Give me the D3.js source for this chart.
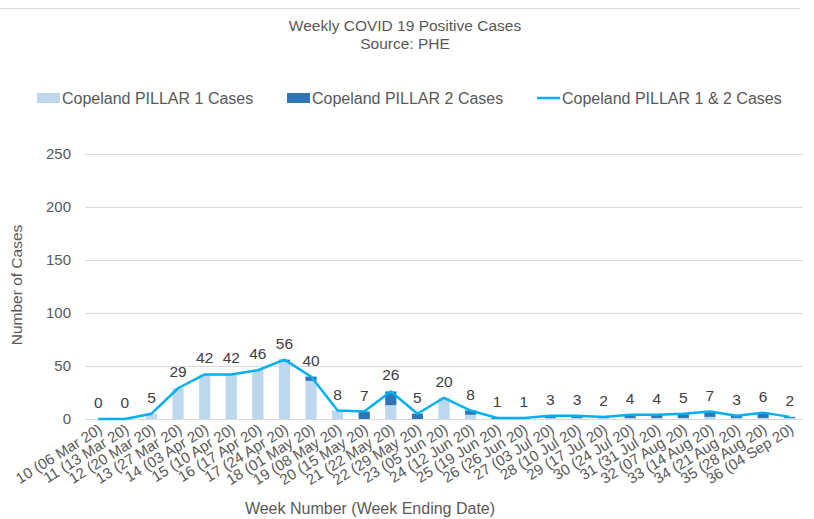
<!DOCTYPE html>
<html>
<head>
<meta charset="utf-8">
<script src="https://cdn.jsdelivr.net/npm/d3@7"></script>
<style>
  body { margin: 0; background: #fff; }
  text { font-family: "Liberation Sans", Arial, sans-serif; fill: #595959; }
</style>
</head>
<body>
<div id="chart"></div>
<script>
const weeks = ["10 (06 Mar 20)", "11 (13 Mar 20)", "12 (20 Mar 20)", "13 (27 Mar 20)", "14 (03 Apr 20)",
  "15 (10 Apr 20)", "16 (17 Apr 20)", "17 (24 Apr 20)", "18 (01 May 20)", "19 (08 May 20)",
  "20 (15 May 20)", "21 (22 May 20)", "22 (29 May 20)", "23 (05 Jun 20)", "24 (12 Jun 20)",
  "25 (19 Jun 20)", "26 (26 Jun 20)", "27 (03 Jul 20)", "28 (10 Jul 20)", "29 (17 Jul 20)",
  "30 (24 Jul 20)", "31 (31 Jul 20)", "32 (07 Aug 20)", "33 (14 Aug 20)", "34 (21 Aug 20)",
  "35 (28 Aug 20)", "36 (04 Sep 20)"];
const pillar1 = [0, 0, 5, 29, 42, 42, 46, 54, 36, 8, 0, 13, 0, 20, 4, 0, 0, 1, 1, 1, 1, 1, 1, 2, 1, 1, 1];
const pillar2 = [0, 0, 0, 0, 0, 0, 0, 2, 4, 0, 7, 13, 5, 0, 4, 1, 1, 2, 2, 1, 3, 3, 4, 5, 2, 5, 1];
const totals = [0, 0, 5, 29, 42, 42, 46, 56, 40, 8, 7, 26, 5, 20, 8, 1, 1, 3, 3, 2, 4, 4, 5, 7, 3, 6, 2];
const yTicks = [0, 50, 100, 150, 200, 250];

const width = 814, height = 519;
const margin = { left: 85, right: 11, top: 154, bottom: 100 };

const svg = d3.select("#chart").append("svg")
  .attr("width", width)
  .attr("height", height);

svg.append("line")
  .attr("x1", 0).attr("x2", 800)
  .attr("y1", 8.5).attr("y2", 8.5)
  .attr("stroke", "#d9d9d9");

const x = d3.scaleBand()
  .domain(weeks)
  .range([margin.left, width - margin.right])
  .padding(0);

const y = d3.scaleLinear()
  .domain([0, 250])
  .range([height - margin.bottom, margin.top]);

// gridlines
svg.append("g")
  .selectAll("line")
  .data(yTicks)
  .enter().append("line")
  .attr("x1", margin.left)
  .attr("x2", width - margin.right)
  .attr("y1", d => Math.round(y(d)) + 0.5)
  .attr("y2", d => Math.round(y(d)) + 0.5)
  .attr("stroke", "#d9d9d9")
  .attr("stroke-width", 1);

svg.append("g")
  .selectAll("text")
  .data(yTicks)
  .enter().append("text")
  .attr("x", 71)
  .attr("y", d => y(d) + 5)
  .attr("text-anchor", "end")
  .attr("font-size", 15)
  .text(d => d);

// stacked bars
const bw = x.bandwidth() * 0.42;
const barX = d => x(d) + (x.bandwidth() - bw) / 2;

svg.append("g")
  .selectAll("rect")
  .data(weeks)
  .enter().append("rect")
  .attr("x", barX)
  .attr("width", bw)
  .attr("y", (d, i) => y(pillar1[i]))
  .attr("height", (d, i) => y(0) - y(pillar1[i]))
  .attr("fill", "#bdd7ee");

svg.append("g")
  .selectAll("rect")
  .data(weeks)
  .enter().append("rect")
  .attr("x", barX)
  .attr("width", bw)
  .attr("y", (d, i) => y(pillar1[i] + pillar2[i]))
  .attr("height", (d, i) => y(pillar1[i]) - y(pillar1[i] + pillar2[i]))
  .attr("fill", "#2e75b6");

// total line
const cx = d => x(d) + x.bandwidth() / 2;
const line = d3.line()
  .x((d, i) => cx(weeks[i]))
  .y(d => y(d));

svg.append("path")
  .datum(totals)
  .attr("d", line)
  .attr("fill", "none")
  .attr("stroke", "#00b0f0")
  .attr("stroke-width", 2.5)
  .attr("stroke-linejoin", "round");

svg.append("g")
  .selectAll("text")
  .data(totals)
  .enter().append("text")
  .attr("x", (d, i) => cx(weeks[i]))
  .attr("y", d => y(d) - 11)
  .attr("text-anchor", "middle")
  .attr("font-size", 15.5)
  .style("fill", "#404040")
  .text(d => d);

// x tick labels
svg.append("g")
  .selectAll("text")
  .data(weeks)
  .enter().append("text")
  .attr("transform", d => `translate(${cx(d) + 5},${y(0) + 13}) rotate(-32)`)
  .attr("text-anchor", "end")
  .attr("font-size", 15)
  .text(d => d);

// titles
svg.append("text")
  .attr("x", 405).attr("y", 31)
  .attr("text-anchor", "middle")
  .attr("font-size", 15.5)
  .text("Weekly COVID 19 Positive Cases");
svg.append("text")
  .attr("x", 405).attr("y", 49)
  .attr("text-anchor", "middle")
  .attr("font-size", 15.5)
  .text("Source: PHE");

svg.append("text")
  .attr("transform", "translate(22,285) rotate(-90)")
  .attr("text-anchor", "middle")
  .attr("font-size", 15.5)
  .text("Number of Cases");

svg.append("text")
  .attr("x", 370).attr("y", 514)
  .attr("text-anchor", "middle")
  .attr("font-size", 16)
  .text("Week Number (Week Ending Date)");

// legend
const legendItems = [
  { label: "Copeland PILLAR 1 Cases", x: 37, type: "bar", color: "#bdd7ee" },
  { label: "Copeland PILLAR 2 Cases", x: 287, type: "bar", color: "#2e75b6" },
  { label: "Copeland PILLAR 1 & 2 Cases", x: 537, type: "line", color: "#00b0f0" }
];
const legend = svg.append("g")
  .selectAll("g")
  .data(legendItems)
  .enter().append("g")
  .attr("transform", d => `translate(${d.x},98)`);

legend.filter(d => d.type === "bar").append("rect")
  .attr("x", 0).attr("y", -5)
  .attr("width", 23).attr("height", 10)
  .attr("fill", d => d.color);
legend.filter(d => d.type === "line").append("line")
  .attr("x1", 0).attr("x2", 23)
  .attr("y1", 0).attr("y2", 0)
  .attr("stroke", d => d.color)
  .attr("stroke-width", 2.5);
legend.append("text")
  .attr("x", 25).attr("y", 5.5)
  .attr("font-size", 16)
  .text(d => d.label);
</script>
</body>
</html>
